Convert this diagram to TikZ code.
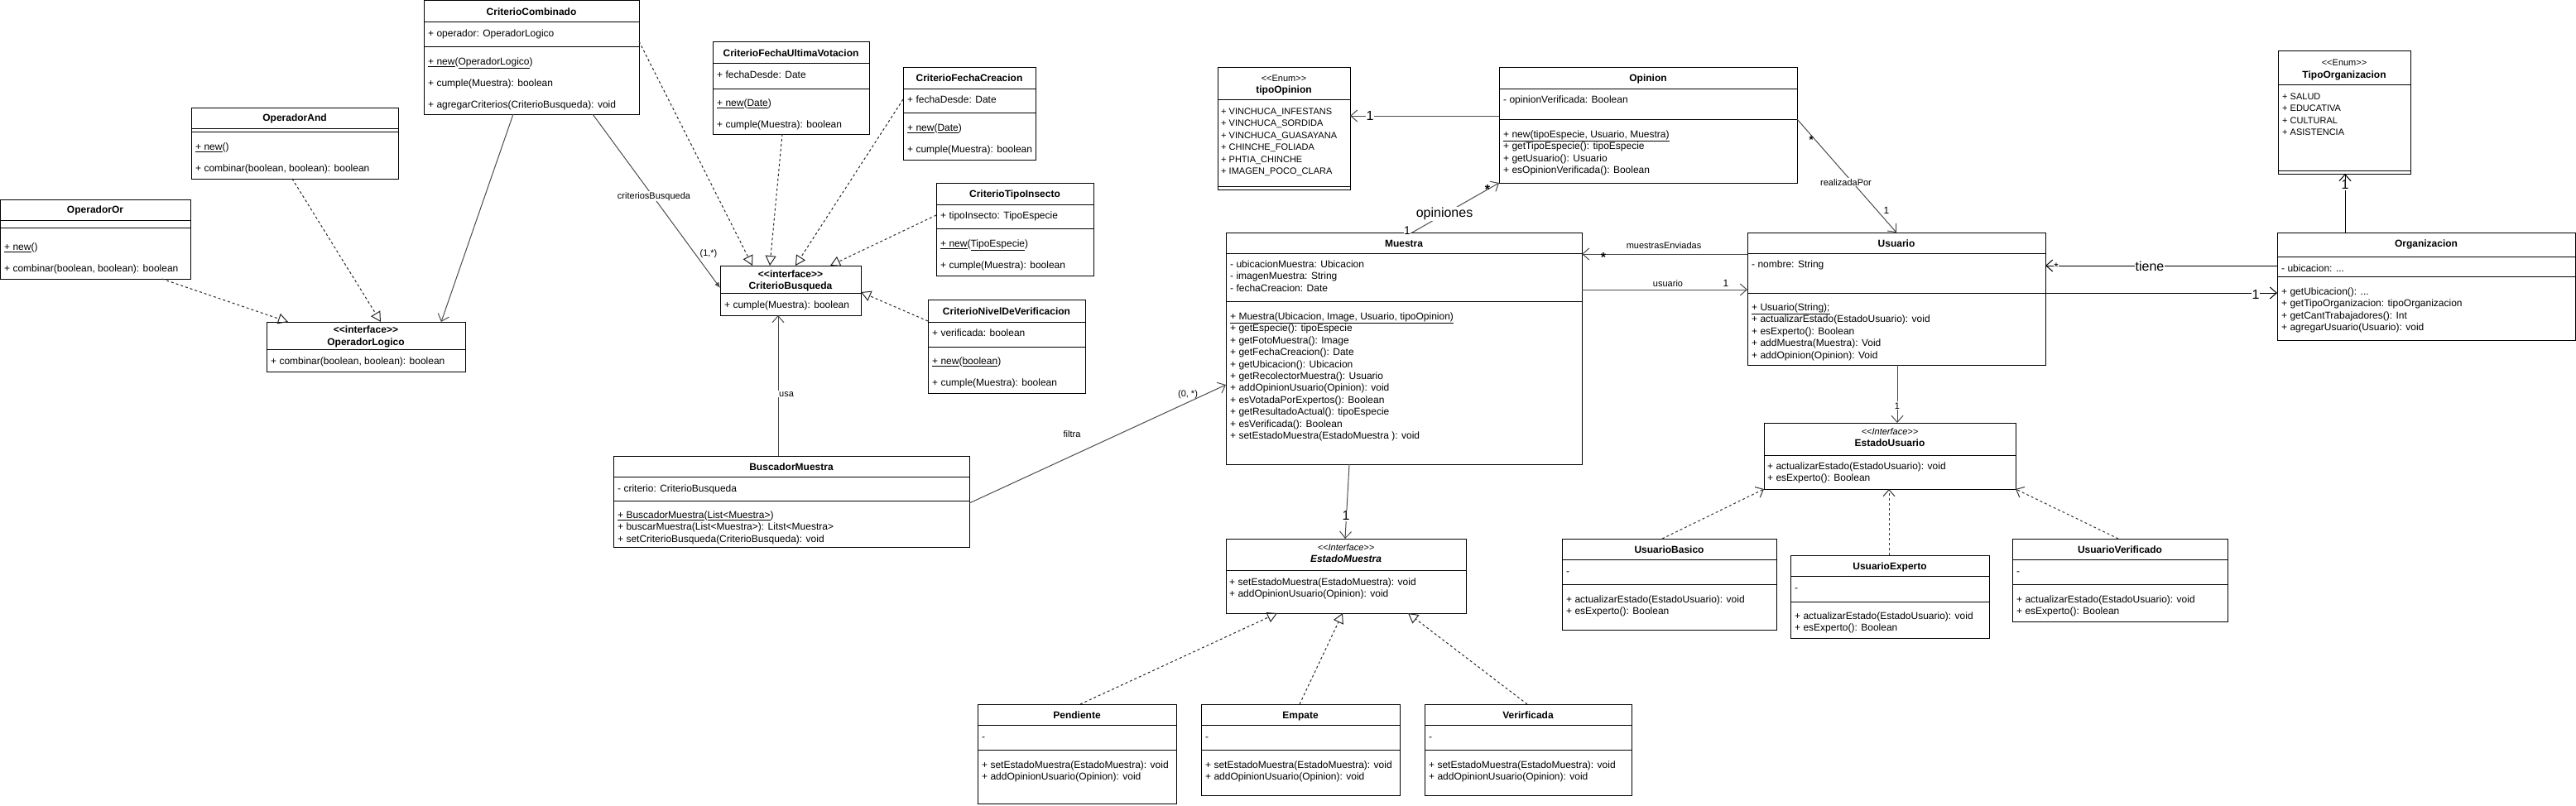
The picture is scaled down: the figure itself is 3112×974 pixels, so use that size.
\documentclass[tikz,border=0pt]{standalone}
\usepackage{fontspec}
\setmainfont{Liberation Sans}
\usetikzlibrary{arrows.meta,calc}
\newcommand{\ltlt}{<\kern0pt<}
\newcommand{\gtgt}{>\kern0pt>}
\newcommand{\umlbox}[5]{\pgfmathsetmacro{\umlW}{#4-#2}\pgfmathsetmacro{\umlH}{#5-#3}\node[clsbox,minimum width=\umlW pt,minimum height=\umlH pt] (#1) at (#2,#3) {};}
\newcommand{\hd}[2]{\draw[line width=1pt] (#1.west |- 0,#2) -- (#1.east |- 0,#2);}
\tikzset{
 clsbox/.style={draw=black, line width=1pt, fill=white, inner sep=0pt, outer sep=0pt, anchor=north west},
 ttl/.style={font=\fontsize{12}{14.4}\selectfont\bfseries, inner sep=0pt, anchor=base, yshift=-4.3pt},
 ster/.style={font=\fontsize{11}{13.2}\selectfont, inner sep=0pt, anchor=base, yshift=-4pt},
 mem/.style={font=\fontsize{12}{14.4}\selectfont, align=left, anchor=north west, inner sep=0pt, yshift=5.8pt},
 enm/.style={font=\fontsize{11}{14.4}\selectfont, align=left, anchor=north west, inner sep=0pt, yshift=5.8pt},
 elab/.style={font=\fontsize{11}{13.2}\selectfont, inner sep=1pt, anchor=base, yshift=-4pt},
 blab/.style={font=\fontsize{16}{19}\selectfont, inner sep=1pt, fill=white, anchor=base, yshift=-5.8pt},
 mlab/.style={font=\fontsize{14}{16}\selectfont, inner sep=0.5pt, anchor=base, yshift=-5pt},
 assoc/.style={line width=1pt, draw=black!70, -{Straight Barb[length=8pt,width=14pt]}},
 assocb/.style={line width=1pt, draw=black, -{Straight Barb[length=8pt,width=14pt]}},
 compo/.style={line width=1pt, draw=black!70, -{Latex[length=7pt,width=6pt]}},
 real/.style={line width=1pt, draw=black!85, dash pattern=on 3pt off 3pt, -{Triangle[open,length=12pt,width=13pt]}},
 realv/.style={line width=1pt, draw=black!80, dash pattern=on 3pt off 3pt, -{Straight Barb[length=8pt,width=14pt]}}
}
\begin{document}
\begin{tikzpicture}[x=1pt,y=-1pt]
\useasboundingbox (0,0) rectangle (3112,974);
\fill[white] (0,0) rectangle (3112,974);

% ---------------- CriterioCombinado
\umlbox{cc}{512}{1}{772}{138}
\hd{cc}{27}\hd{cc}{57}
\node[ttl] (ccT) at (642,14) {CriterioCombinado};
\node[mem] (ccA) at (517,40) {\strut + operador: OperadorLogico};
\node[mem] (ccM) at (517,74) {\strut\underline{+ new}(\underline{OperadorLogico})\\[11.6pt] + cumple(Muestra): boolean\\[11.6pt] + agregarCriterios(CriterioBusqueda): void};

% ---------------- OperadorAnd
\umlbox{oa}{231}{130}{481}{216}
\hd{oa}{155}\hd{oa}{159}
\node[ttl] (oaT) at (356,142) {OperadorAnd};
\node[mem] (oaM) at (236,177) {\strut\underline{+ new}()\\[11.6pt] + combinar(boolean, boolean): boolean};

% ---------------- OperadorOr
\umlbox{oo}{0.5}{241}{230}{337}
\hd{oo}{266}\hd{oo}{275}
\node[ttl] (ooT) at (115,253) {OperadorOr};
\node[mem] (ooM) at (5,298) {\strut\underline{+ new}()\\[11.6pt] + combinar(boolean, boolean): boolean};

% ---------------- OperadorLogico
\umlbox{ol}{322}{389}{562}{449}
\hd{ol}{422}
\node[ttl] (olS) at (442,398) {\ltlt interface\gtgt};
\node[ttl] (olT) at (442,413) {OperadorLogico};
\node[mem] (olM) at (327,436) {\strut + combinar(boolean, boolean): boolean};

% ---------------- CriterioBusqueda
\umlbox{cb}{870}{321}{1040}{381}
\hd{cb}{354}
\node[ttl] (cbS) at (955,331) {\ltlt interface\gtgt};
\node[ttl] (cbT) at (955,345) {CriterioBusqueda};
\node[mem] (cbM) at (875,368) {\strut + cumple(Muestra): boolean};

% ---------------- CriterioFechaUltimaVotacion
\umlbox{cfu}{861}{51}{1050}{162}
\hd{cfu}{76}\hd{cfu}{107}
\node[ttl] (cfuT) at (955.5,64) {CriterioFechaUltimaVotacion};
\node[mem] (cfuA) at (866,90) {\strut + fechaDesde: Date};
\node[mem] (cfuM) at (866,124) {\strut\underline{+ new}(\underline{Date})\\[11.6pt] + cumple(Muestra): boolean};

% ---------------- CriterioFechaCreacion
\umlbox{cfc}{1091}{81}{1251}{193}
\hd{cfc}{107}\hd{cfc}{136}
\node[ttl] (cfcT) at (1171,94) {CriterioFechaCreacion};
\node[mem] (cfcA) at (1096,120) {\strut + fechaDesde: Date};
\node[mem] (cfcM) at (1096,154) {\strut\underline{+ new}(\underline{Date})\\[11.6pt] + cumple(Muestra): boolean};

% ---------------- CriterioTipoInsecto
\umlbox{cti}{1131}{221}{1321}{333}
\hd{cti}{247}\hd{cti}{276}
\node[ttl] (ctiT) at (1226,234) {CriterioTipoInsecto};
\node[mem] (ctiA) at (1136,260) {\strut + tipoInsecto: TipoEspecie};
\node[mem] (ctiM) at (1136,294) {\strut\underline{+ new}(\underline{TipoEspecie})\\[11.6pt] + cumple(Muestra): boolean};

% ---------------- CriterioNivelDeVerificacion
\umlbox{cnv}{1121}{362}{1311}{475}
\hd{cnv}{389}\hd{cnv}{419}
\node[ttl] (cnvT) at (1216,376) {CriterioNivelDeVerificacion};
\node[mem] (cnvA) at (1126,402) {\strut + verificada: boolean};
\node[mem] (cnvM) at (1126,436) {\strut\underline{+ new}(\underline{boolean})\\[11.6pt] + cumple(Muestra): boolean};

% ---------------- BuscadorMuestra
\umlbox{bm}{741}{551}{1171}{661}
\hd{bm}{576}\hd{bm}{605}
\node[ttl] (bmT) at (956,564) {BuscadorMuestra};
\node[mem] (bmA) at (746,590) {\strut - criterio: CriterioBusqueda};
\node[mem] (bmM) at (746,622) {\strut\underline{+ BuscadorMuestra}(\underline{List<Muestra>})\\ + buscarMuestra(List<Muestra>): Litst<Muestra>\\ + setCriterioBusqueda(CriterioBusqueda): void};

% ---------------- tipoOpinion
\umlbox{to}{1471}{81}{1631}{229}
\hd{to}{120}\hd{to}{225}
\node[ster] (toS) at (1551,94) {\ltlt Enum\gtgt};
\node[ttl] (toT) at (1551,108) {tipoOpinion};
\node[enm] (toA) at (1475,134) {\strut + VINCHUCA\_INFESTANS\\ + VINCHUCA\_SORDIDA\\ + VINCHUCA\_GUASAYANA\\ + CHINCHE\_FOLIADA\\ + PHTIA\_CHINCHE\\ + IMAGEN\_POCO\_CLARA};

% ---------------- Opinion
\umlbox{op}{1811}{81}{2171}{221}
\hd{op}{107}\hd{op}{144}
\node[ttl] (opT) at (1991,94) {Opinion};
\node[mem] (opA) at (1816,120) {\strut - opinionVerificada: Boolean};
\node[mem] (opM) at (1816,162) {\strut\underline{+ new(tipoEspecie, Usuario, Muestra)}\\ + getTipoEspecie(): tipoEspecie\\ + getUsuario(): Usuario\\ + esOpinionVerificada(): Boolean};

% ---------------- Muestra
\umlbox{mu}{1481}{281}{1911}{561}
\hd{mu}{306}\hd{mu}{364}
\node[ttl] (muT) at (1696,294) {Muestra};
\node[mem] (muA) at (1486,319) {\strut - ubicacionMuestra: Ubicacion\\ - imagenMuestra: String\\ - fechaCreacion: Date};
\node[mem] (muM) at (1486,382) {\strut\underline{+ Muestra(Ubicacion, Image, Usuario, tipoOpinion)}\\ + getEspecie(): tipoEspecie\\ + getFotoMuestra(): Image\\ + getFechaCreacion(): Date\\ + getUbicacion(): Ubicacion\\ + getRecolectorMuestra(): Usuario\\ + addOpinionUsuario(Opinion): void\\ + esVotadaPorExpertos(): Boolean\\ + getResultadoActual(): tipoEspecie\\ + esVerificada(): Boolean\\ + setEstadoMuestra(EstadoMuestra ): void};

% ---------------- Usuario
\umlbox{us}{2111}{281}{2471}{441}
\hd{us}{306}\hd{us}{354}
\node[ttl] (usT) at (2291,294) {Usuario};
\node[mem] (usA) at (2116,319) {\strut - nombre: String};
\node[mem] (usM) at (2116,371) {\strut\underline{+ Usuario(String);}\\ + actualizarEstado(EstadoUsuario): void\\ + esExperto(): Boolean\\ + addMuestra(Muestra): Void\\ + addOpinion(Opinion): Void};

% ---------------- Organizacion
\umlbox{org}{2751}{281}{3111}{411}
\hd{org}{310}\hd{org}{334}
\node[ttl] (orgT) at (2931,294) {Organizacion};
\node[mem] (orgA) at (2756,324) {\strut - ubicacion: ...};
\node[mem] (orgM) at (2756,352) {\strut + getUbicacion(): ...\\ + getTipoOrganizacion: tipoOrganizacion\\ + getCantTrabajadores(): Int\\ + agregarUsuario(Usuario): void};

% ---------------- TipoOrganizacion
\umlbox{tor}{2752}{62}{2912}{210}
\hd{tor}{102}\hd{tor}{206}
\node[ster] (torS) at (2832,76) {\ltlt Enum\gtgt};
\node[ttl] (torT) at (2832,90) {TipoOrganizacion};
\node[enm] (torA) at (2757,116) {\strut + SALUD\\ + EDUCATIVA\\ + CULTURAL\\ + ASISTENCIA};

% ---------------- EstadoUsuario
\umlbox{eu}{2131}{511}{2435}{591}
\hd{eu}{550}
\node[ster,font=\fontsize{11}{13.2}\selectfont\itshape] (euS) at (2283,521) {\ltlt Interface\gtgt};
\node[ttl] (euT) at (2283,535) {EstadoUsuario};
\node[mem] (euM) at (2135,563) {\strut + actualizarEstado(EstadoUsuario): void\\ + esExperto(): Boolean};

% ---------------- UsuarioBasico / Experto / Verificado
\umlbox{ub}{1887}{651}{2146}{761}
\hd{ub}{676}\hd{ub}{706}
\node[ttl] (ubT) at (2016.5,664) {UsuarioBasico};
\node[mem] (ubA) at (1892,690) {\strut -};
\node[mem] (ubM) at (1892,724) {\strut + actualizarEstado(EstadoUsuario): void\\ + esExperto(): Boolean};

\umlbox{ue}{2163}{671}{2403}{771}
\hd{ue}{696}\hd{ue}{727}
\node[ttl] (ueT) at (2283,684) {UsuarioExperto};
\node[mem] (ueA) at (2168,710) {\strut -};
\node[mem] (ueM) at (2168,744) {\strut + actualizarEstado(EstadoUsuario): void\\ + esExperto(): Boolean};

\umlbox{uv}{2431}{651}{2691}{751}
\hd{uv}{676}\hd{uv}{706}
\node[ttl] (uvT) at (2561,664) {UsuarioVerificado};
\node[mem] (uvA) at (2436,690) {\strut -};
\node[mem] (uvM) at (2436,724) {\strut + actualizarEstado(EstadoUsuario): void\\ + esExperto(): Boolean};

% ---------------- EstadoMuestra
\umlbox{em}{1481}{651}{1771}{741}
\hd{em}{689}
\node[ster,font=\fontsize{11}{13.2}\selectfont\itshape] (emS) at (1626,661) {\ltlt Interface\gtgt};
\node[ttl,font=\fontsize{12}{14.4}\selectfont\bfseries\itshape] (emT) at (1626,675) {EstadoMuestra};
\node[mem] (emM) at (1485,703) {\strut + setEstadoMuestra(EstadoMuestra): void\\ + addOpinionUsuario(Opinion): void};

% ---------------- Pendiente / Empate / Verirficada
\umlbox{pe}{1181}{851}{1421}{971}
\hd{pe}{876}\hd{pe}{906}
\node[ttl] (peT) at (1301,864) {Pendiente};
\node[mem] (peA) at (1186,890) {\strut -};
\node[mem] (peM) at (1186,924) {\strut + setEstadoMuestra(EstadoMuestra): void\\ + addOpinionUsuario(Opinion): void};

\umlbox{ep}{1451}{851}{1691}{961}
\hd{ep}{876}\hd{ep}{906}
\node[ttl] (epT) at (1571,864) {Empate};
\node[mem] (epA) at (1456,890) {\strut -};
\node[mem] (epM) at (1456,924) {\strut + setEstadoMuestra(EstadoMuestra): void\\ + addOpinionUsuario(Opinion): void};

\umlbox{ve}{1721}{851}{1971}{961}
\hd{ve}{876}\hd{ve}{906}
\node[ttl] (veT) at (1846,864) {Verirficada};
\node[mem] (veA) at (1726,890) {\strut -};
\node[mem] (veM) at (1726,924) {\strut + setEstadoMuestra(EstadoMuestra): void\\ + addOpinionUsuario(Opinion): void};

% ================= connectors
% operador logico
\draw[real] ([xshift=195pt]oo.south west) -- ([xshift=26pt]ol.north west);
\draw[real] ([xshift=122pt]oa.south west) -- ([xshift=138pt]ol.north west);
\draw[assoc] ([xshift=108pt]cc.south west) -- ([xshift=211pt]ol.north west);
% criteriosBusqueda
\draw[compo] ([xshift=204pt]cc.south west) -- ([yshift=-27pt]cb.north west);
\node[elab,fill=white] (lcb) at (790,236) {criteriosBusqueda};
\node[elab] (lcbm) at (856,305) {(1,*)};
% realizations of CriterioBusqueda
\draw[real] ([yshift=-49pt]cc.north east) -- ([xshift=39pt]cb.north west);
\draw[real] ([xshift=84pt]cfu.south west) -- ([xshift=60pt]cb.north west);
\draw[real] ([yshift=-39pt]cfc.north west) -- ([xshift=91pt]cb.north west);
\draw[real] ([yshift=-39pt]cti.north west) -- ([xshift=133pt]cb.north west);
\draw[real] ([yshift=-26pt]cnv.north west) -- ([yshift=-32pt]cb.north east);
% buscador
\draw[assoc] ([xshift=199pt]bm.north west) -- ([xshift=70pt]cb.south west);
\node[elab,fill=white] (lusa) at (950,475) {usa};
\draw[assoc] ([yshift=-57pt]bm.north east) -- ([yshift=-184pt]mu.north west);
\node[elab] (lfil) at (1295,524) {filtra};
\node[elab] (lfilm) at (1435,475) {(0, *)};
% opinion -> tipoOpinion
\draw[assoc] ([yshift=-59pt]op.north west) -- ([yshift=-59pt]to.north east);
\node[blab] (lto) at (1655,140) {1};
% opiniones
\draw[assoc] ([xshift=225pt]mu.north west) -- (op.south west);
\node[blab] (lopi) at (1745,257) {opiniones};
\node[mlab,fill=white] (lopi1) at (1700,278) {1};
\node[mlab,font=\fontsize{16}{19}\selectfont\bfseries] (lopis) at (1797,229) {*};
% realizadaPor
\draw[assoc] ([yshift=-63pt]op.north east) -- ([xshift=180pt]us.north west);
\node[mlab,font=\fontsize{13}{15}\selectfont\bfseries] (lrps) at (2188,168) {*};
\node[elab,fill=white] (lrp) at (2230,220) {realizadaPor};
\node[elab,font=\fontsize{12}{14}\selectfont] (lrp1) at (2279,254) {1};
% muestrasEnviadas
\draw[assoc] ([yshift=-26pt]us.north west) -- ([yshift=-26pt]mu.north east);
\node[elab] (lme) at (2010,296) {muestrasEnviadas};
\node[mlab,font=\fontsize{16}{19}\selectfont\bfseries] (lmes) at (1937,311) {*};
% usuario
\draw[assoc] ([yshift=-69pt]mu.north east) -- ([yshift=-69pt]us.north west);
\node[elab] (lus) at (2015,342) {usuario};
\node[elab,font=\fontsize{12}{14}\selectfont] (lus1) at (2085,342) {1};
% tiene
\draw[assocb] ([yshift=-40pt]org.north west) -- ([yshift=-40pt]us.north east);
\node[blab] (ltie) at (2597,322) {tiene};
\node[mlab,fill=white] (lties) at (2484,322) {*};
% usuario -> organizacion
\draw[assocb] ([yshift=-73pt]us.north east) -- ([yshift=-73pt]org.north west);
\node[blab] (lorg1) at (2725,356) {1};
% organizacion -> tipoOrganizacion
\draw[assocb] ([xshift=82pt]org.north west) -- ([xshift=81pt]tor.south west);
\node[blab] (ltor1) at (2833,223) {1};
% usuario -> estadoUsuario
\draw[assoc] ([xshift=181pt]us.south west) -- ([xshift=161pt]eu.north west);
\node[elab,fill=white] (leu1) at (2292,490) {1};
% realizations of EstadoUsuario
\draw[realv] ([xshift=121pt]ub.north west) -- (eu.south west);
\draw[realv] ([xshift=119pt]ue.north west) -- ([xshift=151pt]eu.south west);
\draw[realv] ([xshift=128pt]uv.north west) -- (eu.south east);
% muestra -> estadoMuestra
\draw[assoc] ([xshift=149pt]mu.south west) -- ([xshift=144pt]em.north west);
\node[blab] (lem1) at (1626,623) {1};
% realizations of EstadoMuestra
\draw[real] ([xshift=124pt]pe.north west) -- ([xshift=62pt]em.south west);
\draw[real] ([xshift=119pt]ep.north west) -- ([xshift=141pt]em.south west);
\draw[real] ([xshift=124pt]ve.north west) -- ([xshift=220pt]em.south west);
\end{tikzpicture}
\end{document}
